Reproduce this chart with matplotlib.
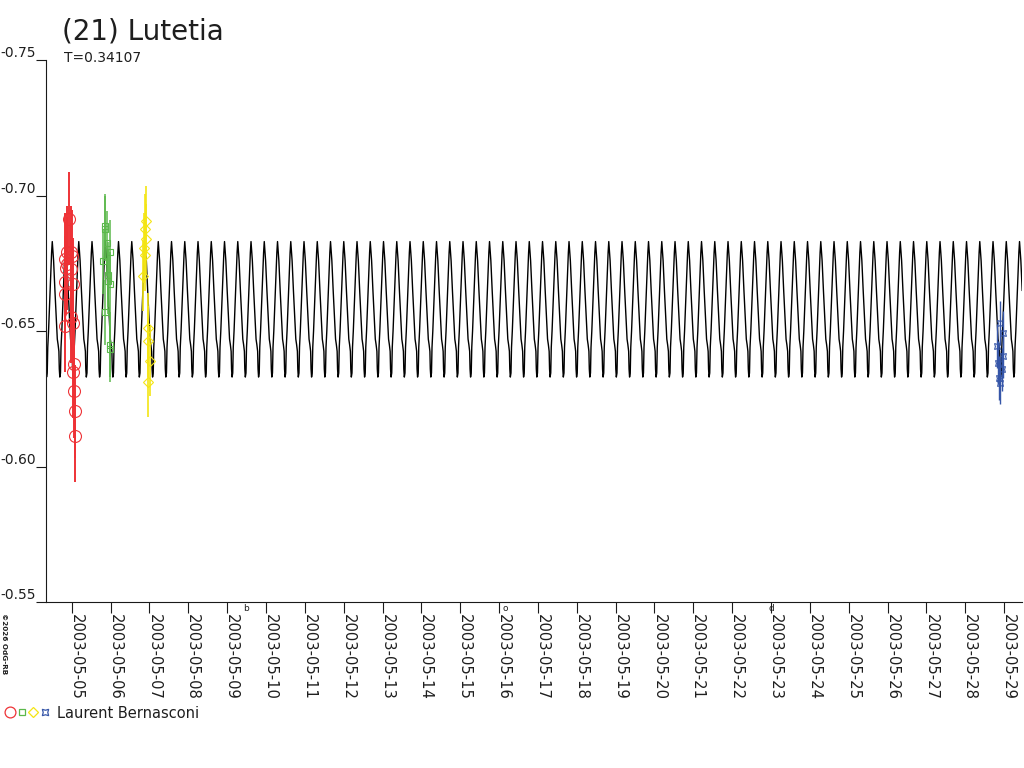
import numpy as np
import matplotlib
matplotlib.use("Agg")
import matplotlib.pyplot as plt
import matplotlib.dates as mdates
from matplotlib.lines import Line2D
from matplotlib.legend_handler import HandlerTuple

# ---------------- data ----------------
TITLE = "(21) Lutetia"
PERIOD_LABEL = "T=0.34107"
PERIOD_DAYS = 0.34107
EPOCH = "2003-05-13T17:00"          # time of a light-curve maximum
OBSERVER = "Laurent Bernasconi"
COPYRIGHT = "\u00a92026 OdG-RB"

# one rotation cycle of the model light curve (phase, relative magnitude)
cycle_phase = [0.00, 0.10, 0.20, 0.30, 0.38, 0.44, 0.50, 0.53, 0.57, 0.62, 0.66, 0.72, 0.80, 0.88, 0.95]
cycle_mag = [-0.683, -0.676, -0.665, -0.655, -0.647, -0.645, -0.6425, -0.636, -0.633,
             -0.6345, -0.644, -0.650, -0.660, -0.671, -0.679]

# observations: hours relative to the night's 00:00 UT, relative magnitudes
red_night = "2003-05-05"
red_hours = [-4.1, -4.1, -4.1, -4.1, -3.5, -2.9, -2.9, -1.7, -0.4, -0.4, -0.4, 0.2,
             0.8, 0.8, 0.8, 1.4, 1.4, 2.0, 2.0]
red_mag = [-0.6764, -0.6679, -0.6635, -0.6517, -0.6734, -0.6793, -0.6749, -0.6915,
           -0.6793, -0.6727, -0.6553, -0.6775, -0.6675, -0.6531, -0.6350, -0.6380,
           -0.6277, -0.6203, -0.6111]
red_err = 0.017

green_night = "2003-05-06"
green_hours = [-4.5, -3.4, -3.4, -3.4, -2.4, -1.4, -1.4, -0.3, -0.3, -0.3, -0.3]
green_mag = [-0.6758, -0.6886, -0.6878, -0.6569, -0.6823, -0.6708, -0.6684, -0.6791,
             -0.6672, -0.6450, -0.6432]
green_err = 0.012

yellow_night = "2003-05-07"
yellow_hours = [-3.8, -3.3, -2.7, -2.7, -2.1, -2.1, -0.7, -0.7, -0.7, 0.4]
yellow_mag = [-0.6702, -0.6807, -0.6875, -0.6779, -0.6905, -0.6838, -0.6512, -0.6462,
              -0.6311, -0.6389]
yellow_err = 0.013

blue_night = "2003-05-29"
blue_hours = [-4.6, -3.6, -3.0, -2.5, -2.5, -1.5, -0.9, -0.5]
blue_mag = [-0.6444, -0.6383, -0.6327, -0.6530, -0.6309, -0.6358, -0.6493, -0.6407]
blue_err = 0.008

# moon phases
moon_times = ["2003-05-09T11:53", "2003-05-16T03:36", "2003-05-23T00:31"]
moon_symbols = ["b", "o", "d"]

x_start = "2003-05-04T08:07"
x_end = "2003-05-29T11:04"
date_ticks = [f"2003-05-{d:02d}" for d in range(5, 30)]
y_ticks = [-0.75, -0.70, -0.65, -0.60, -0.55]
y_tick_labels = ["-0.75", "-0.70", "-0.65", "-0.60", "-0.55"]

# ---------------- styles ----------------
TXT = "#1e1e1e"
RED, GREEN, YELLOW, BLUE = "#ee3236", "#5bb84b", "#f4e514", "#3656a8"
plt.rcParams["font.family"] = ["DejaVu Sans"]

W, H = 1024, 768
fig = plt.figure(figsize=(W / 100, H / 100), dpi=100)
ax = fig.add_axes([46 / W, (H - 602) / H, (1022 - 46) / W, (602 - 60) / H])


def dnum(s):
    return mdates.date2num(np.datetime64(s))


x0, x1 = dnum(x_start), dnum(x_end)

# model light curve repeated every rotation period
epoch = dnum(EPOCH)
k0 = int(np.floor((x0 - epoch) / PERIOD_DAYS)) - 1
k1 = int(np.ceil((x1 - epoch) / PERIOD_DAYS)) + 1
ph = np.array(cycle_phase)
curve_t = np.concatenate([epoch + (k + ph) * PERIOD_DAYS for k in range(k0, k1)])
curve_m = np.tile(np.array(cycle_mag), k1 - k0)
ax.plot(curve_t, curve_m, color="#000000", lw=1.0, zorder=2)


def obs(night, hours, mags, err, color, marker, ms, elw):
    t = dnum(night) + np.array(hours) / 24.0
    ax.errorbar(t, mags, yerr=err, linestyle="none", marker=marker, ms=ms, mfc="none",
                mec=color, mew=0.8, ecolor=color, elinewidth=elw, capsize=0, zorder=3)


obs(red_night, red_hours, red_mag, red_err, RED, "o", 8.6, 1.4)
obs(green_night, green_hours, green_mag, green_err, GREEN, "s", 4.8, 1.1)
obs(yellow_night, yellow_hours, yellow_mag, yellow_err, YELLOW, "D", 5.0, 1.2)
obs(blue_night, blue_hours, blue_mag, blue_err, BLUE, (4, 1, 45), 6.0, 1.0)

ax.set_xlim(x0, x1)
ax.set_ylim(-0.55, -0.75)

for side in ("top", "right"):
    ax.spines[side].set_visible(False)
for side in ("left", "bottom"):
    ax.spines[side].set_linewidth(0.8)
    ax.spines[side].set_color("#1a1a1a")

ax.set_yticks(y_ticks)
ax.set_yticklabels(y_tick_labels)
ax.tick_params(axis="y", direction="out", length=7.2, width=0.8, pad=0.3,
               labelsize=10, colors="#1a1a1a", labelcolor=TXT)
for lbl in ax.get_yticklabels():
    lbl.set_va("bottom")

ax.set_xticks([dnum(d) for d in date_ticks])
ax.set_xticklabels(date_ticks)
ax.tick_params(axis="x", direction="out", length=8.0, width=0.8, pad=0.5,
               labelsize=10.6, colors="#1a1a1a", labelcolor=TXT)
for lbl in ax.get_xticklabels():
    lbl.set_rotation(-90)
    lbl.set_rotation_mode("anchor")
    lbl.set_ha("left")
    lbl.set_va("baseline")

for t, s in zip(moon_times, moon_symbols):
    ax.text(dnum(t), -0.003, s, transform=ax.get_xaxis_transform(), ha="center",
            va="top", fontsize=6.5, color=TXT)

fig.text(62 / W, 1 - 39.5 / H, TITLE, fontsize=20, color=TXT, va="baseline", ha="left")
fig.text(64 / W, 1 - 62.5 / H, PERIOD_LABEL, fontsize=10, color=TXT, va="baseline", ha="left")
fig.text(0.5 / W, 1 - 613 / H, COPYRIGHT, rotation=-90, fontsize=5.2, fontweight="bold",
         color=TXT, ha="left", va="top")

handles = (
    Line2D([], [], ls="none", marker="o", ms=7.8, mfc="none", mec=RED, mew=0.9),
    Line2D([], [], ls="none", marker="s", ms=5.0, mfc="none", mec=GREEN, mew=0.9),
    Line2D([], [], ls="none", marker="D", ms=5.5, mfc="none", mec=YELLOW, mew=0.9),
    Line2D([], [], ls="none", marker=(4, 1, 45), ms=6.5, mfc="none", mec=BLUE, mew=0.9),
)
fig.legend([handles], [OBSERVER], handler_map={tuple: HandlerTuple(ndivide=None, pad=0.0)},
           loc="center left", bbox_to_anchor=(4 / W, 1 - 713 / H), frameon=False,
           borderpad=0, borderaxespad=0, handlelength=3.2, handletextpad=0.45,
           numpoints=1, fontsize=10.5, labelcolor=TXT)

fig.savefig("out.png", dpi=100)
